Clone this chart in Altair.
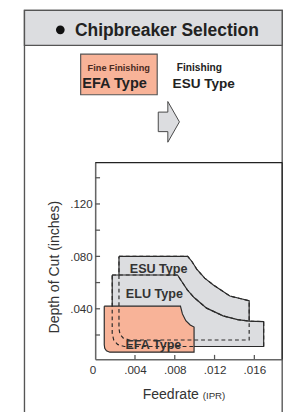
import altair as alt
import pandas as pd

# ---- data (feedrate in IPR, depth of cut in inches) ----
esu_x = [0.00239, 0.00930, 0.00974, 0.01023, 0.01101, 0.01188, 0.01354, 0.01548, 0.01548, 0.00342, 0.00283, 0.00249, 0.00239]
esu_y = [0.0800, 0.0800, 0.0759, 0.0700, 0.0634, 0.0582, 0.0497, 0.0461, 0.0162, 0.0162, 0.0176, 0.0206, 0.0250]

elu_x = [0.00171, 0.00828, 0.00867, 0.00926, 0.00994, 0.01120, 0.01286, 0.01432, 0.01548, 0.01694, 0.01694, 0.00293, 0.00225, 0.00186, 0.00171]
elu_y = [0.0658, 0.0658, 0.0612, 0.0545, 0.0486, 0.0405, 0.0346, 0.0317, 0.0306, 0.0302, 0.0112, 0.0112, 0.0128, 0.0162, 0.0213]

efa_x = [0.00091, 0.00857, 0.00877, 0.00911, 0.00955, 0.00994, 0.00994, 0.00147, 0.00113, 0.00096, 0.00091]
efa_y = [0.0420, 0.0420, 0.0361, 0.0309, 0.0276, 0.0261, 0.0069, 0.0069, 0.0080, 0.0099, 0.0125]

label_names = ["ESU Type", "ELU Type", "EFA Type"]
label_x = [0.00638, 0.00595, 0.00585]
label_y = [0.0673, 0.0481, 0.0095]

x_tick_values = [0.004, 0.008, 0.012, 0.016]
x_label_values = [0, 0.004, 0.008, 0.012, 0.016]
y_tick_values = [0.02, 0.04, 0.06, 0.08, 0.10, 0.12, 0.14]
y_label_values = [0.04, 0.08, 0.12]

x_domain = [0, 0.0188]
y_domain = [0.0015, 0.1516]

W, H = 193, 203
FONT = "Liberation Sans"
SALMON = "#f8b398"
GRAY = "#dcdde0"
LINE = "#2a2a2a"


def poly(xs, ys):
    xs2 = list(xs) + [xs[0]]
    ys2 = list(ys) + [ys[0]]
    return pd.DataFrame({"x": xs2, "y": ys2, "i": list(range(len(xs2)))})


xaxis = alt.Axis(
    values=x_label_values,
    labelExpr="datum.value == 0 ? '0' : slice(format(datum.value, '.3f'), 1)",
    labelOffset={"condition": {"test": "datum.value == 0", "value": -6}, "value": 0},
    ticks=False, tickSize=0, grid=False, title=None,
    domainColor="#666666", domainWidth=1.6,
    labelFont=FONT, labelFontSize=12, labelColor="#333333", labelPadding=6,
)
yaxis = alt.Axis(
    values=y_label_values,
    labelExpr="slice(format(datum.value, '.3f'), 1)",
    ticks=False, tickSize=0, grid=False, title=None,
    domainColor="#666666", domainWidth=1.6,
    labelFont=FONT, labelFontSize=12, labelColor="#333333", labelPadding=3,
)
xsc = alt.Scale(domain=x_domain, nice=False, zero=False)
ysc = alt.Scale(domain=y_domain, nice=False, zero=False)


def X(f="x"):
    return alt.X(f"{f}:Q", scale=xsc, axis=xaxis)


def Y(f="y"):
    return alt.Y(f"{f}:Q", scale=ysc, axis=yaxis)


def filled(xs, ys, color):
    return alt.Chart(poly(xs, ys)).mark_line(
        fill=color, stroke=LINE, strokeWidth=1.2, interpolate="linear"
    ).encode(x=X(), y=Y(), order="i:Q")


def dashed(xs, ys):
    return alt.Chart(poly(xs, ys)).mark_line(
        stroke=LINE, strokeWidth=1.2, strokeDash=[4, 3], interpolate="linear"
    ).encode(x=X(), y=Y(), order="i:Q")


esu = filled(esu_x, esu_y, GRAY)
elu = filled(elu_x, elu_y, GRAY)
efa = filled(efa_x, efa_y, SALMON)
esu_d = dashed(esu_x, esu_y)
elu_d = dashed(elu_x, elu_y)

labels = alt.Chart(pd.DataFrame({"x": label_x, "y": label_y, "t": label_names})).mark_text(
    font=FONT, fontSize=13, fontWeight="bold", color="#333333", align="center", baseline="alphabetic"
).encode(x=X(), y=Y(), text="t:N")

xticks = alt.Chart(pd.DataFrame({"x": x_tick_values})).mark_rule(
    color="#555555", strokeWidth=1.3
).encode(x=X(), y=alt.value(H), y2=alt.value(H - 4.5))
yticks = alt.Chart(pd.DataFrame({"y": y_tick_values})).mark_rule(
    color="#555555", strokeWidth=1.3
).encode(y=Y(), x=alt.value(0), x2=alt.value(5))

one = pd.DataFrame({"a": [0]})

panel = alt.Chart(one).mark_rect(fill="transparent", stroke="#555555", strokeWidth=1.4).encode(
    x=alt.value(-73), x2=alt.value(193), y=alt.value(-157), y2=alt.value(270)
)
header = alt.Chart(one).mark_rect(fill=GRAY, stroke="#555555", strokeWidth=1.4).encode(
    x=alt.value(-73), x2=alt.value(193), y=alt.value(-157), y2=alt.value(-121)
)
bullet = alt.Chart(one).mark_point(shape="circle", filled=True, size=80, color="#111111", opacity=1).encode(
    x=alt.value(-36), y=alt.value(-137)
)
frame_top = alt.Chart(one).mark_rule(color="#222222", strokeWidth=1.2).encode(
    x=alt.value(0), x2=alt.value(W), y=alt.value(0)
)
frame_right = alt.Chart(one).mark_rule(color="#222222", strokeWidth=1.2).encode(
    x=alt.value(W), y=alt.value(0), y2=alt.value(H)
)


def txt(s, x, y, size, weight="bold", color="#222222", align="center", angle=0):
    kw = dict(text=s, font=FONT, fontSize=size, fontWeight=weight, color=color,
              align=align, baseline="alphabetic")
    if angle:
        kw["angle"] = angle
    return alt.Chart(one).mark_text(**kw).encode(x=alt.value(x), y=alt.value(y))


title = txt("Chipbreaker Selection", 74, -130.3, 18)
efa_box = alt.Chart(one).mark_rect(fill=SALMON, stroke="#555555", strokeWidth=1.2).encode(
    x=alt.value(-15), x2=alt.value(64), y=alt.value(-112), y2=alt.value(-70)
)
t1 = txt("Fine Finishing", 24.3, -94.3, 9.5, color="#4a2a22")
t2 = txt("EFA Type", 20, -77, 15)
t3 = txt("Finishing", 107.5, -94.3, 10.5)
t4 = txt("ESU Type", 112, -77, 14)

arrow_path = "M-0.52,-0.48L-0.05,-0.48L-0.05,-1L0.52,0L-0.05,1L-0.05,0.48L-0.52,0.48Z"
arrow = alt.Chart(one).mark_point(
    shape=arrow_path, size=1764, filled=True, fill=GRAY, stroke="#444444", strokeWidth=1, opacity=1
).encode(x=alt.value(76), y=alt.value(-42))

xt1 = txt("Feedrate", 49, 244, 14.5, weight="normal", color="#333333", align="left")
xt2 = txt("(IPR)", 111, 244, 10, weight="normal", color="#333333", align="left")
yt = txt("Depth of Cut (inches)", -37.3, 108, 14.5, weight="normal", color="#333333", angle=270)

chart = alt.layer(
    panel, header, bullet, title, efa_box, t1, t2, t3, t4, arrow,
    esu, elu, efa, esu_d, elu_d, labels, xticks, yticks, frame_top, frame_right, xt1, xt2, yt
).properties(
    width=W, height=H,
    autosize=alt.AutoSizeParams(type="none"),
    padding={"left": 90, "top": 153, "right": 6, "bottom": 50},
).configure(
    font=FONT, background="white"
).configure_view(
    stroke=None
)

chart.save("out.html", embed_options={"renderer": "svg", "actions": False})
